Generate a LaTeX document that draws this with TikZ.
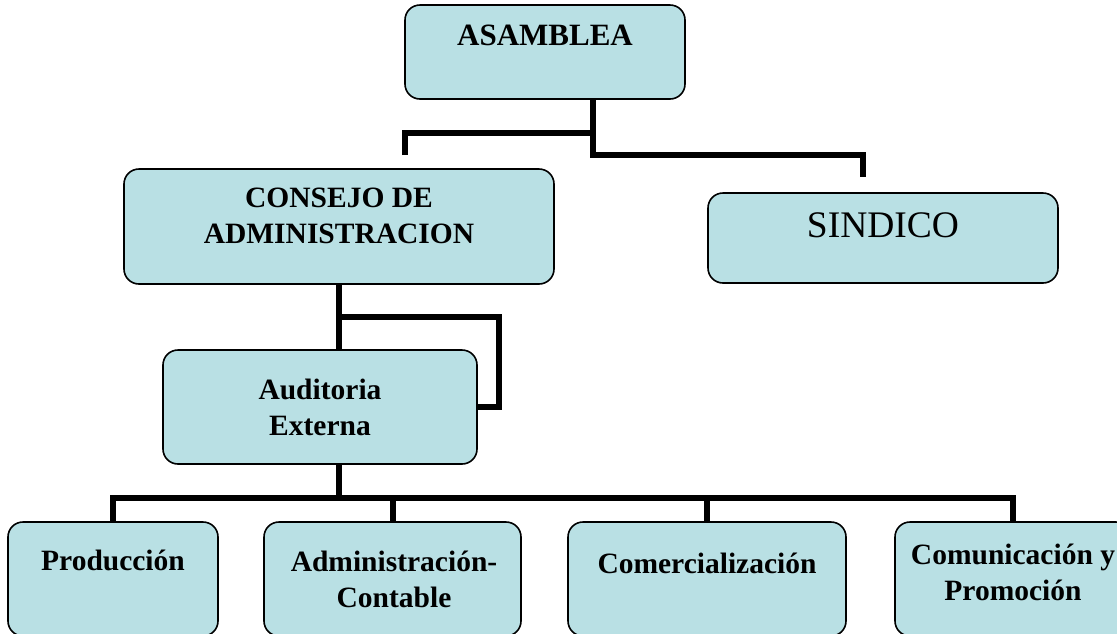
\documentclass[tikz,border=0pt]{standalone}
\usepackage{fontspec}
\setmainfont{Liberation Serif}
\definecolor{boxfill}{RGB}{185,224,228}
\tikzset{
  orgbox/.style={draw=black, line width=1.6pt, rounded corners=15pt, fill=boxfill, inner sep=0pt},
  lbl/.style={anchor=base, align=center, inner sep=0pt, font=\fontsize{29.5}{36}\selectfont\bfseries},
  conn/.style={line width=6pt, line cap=butt, line join=miter}
}
\begin{document}
\begin{tikzpicture}[x=1pt, y=-1pt]
\useasboundingbox (0,0) rectangle (1117,633);
\clip (0,0) rectangle (1117,633);
% boxes
\node[orgbox, minimum width=280pt, minimum height=94pt] (asamblea) at (545,52) {};
\node[orgbox, minimum width=430pt, minimum height=115pt] (consejo) at (339,226.5) {};
\node[orgbox, minimum width=350pt, minimum height=90pt] (sindico) at (883,238) {};
\node[orgbox, minimum width=314pt, minimum height=114pt] (auditoria) at (320,407) {};
\node[orgbox, minimum width=210pt, minimum height=114pt] (produccion) at (113,579) {};
\node[orgbox, minimum width=257pt, minimum height=114pt] (admin) at (392.5,579) {};
\node[orgbox, minimum width=278pt, minimum height=114pt] (comer) at (707,579) {};
\node[orgbox, minimum width=236pt, minimum height=114pt] (comun) at (1013,579) {};
% labels (base anchor = baseline of last line)
\node[lbl, font=\fontsize{31}{36}\selectfont\bfseries] (tasamblea) at (545,45) {ASAMBLEA};
\node[lbl] (tconsejo) at (339,243) {CONSEJO DE\\ADMINISTRACION};
\node[anchor=base, inner sep=0pt, font=\fontsize{37.5}{40}\selectfont] (tsindico) at (883,237) {SINDICO};
\node[lbl] (tauditoria) at (320,435) {Auditoria\\Externa};
\node[lbl] (tproduccion) at (113,570) {Producción};
\node[lbl] (tadmin) at (394,607) {Administración-\\Contable};
\node[lbl] (tcomer) at (707,573) {Comercialización};
\node[lbl] (tcomun) at (1013,600) {Comunicación y\\Promoción};
% junction coordinates
\coordinate (j1) at (593,133);
\coordinate (c1) at (405,155);
\coordinate (j2) at (863,155);
\coordinate (c2) at (863,177);
\coordinate (j3) at (339,317);
\coordinate (k) at (499,317);
\coordinate (bus) at (339,498);
% connectors
\draw[conn] (asamblea.south -| j1) -- (j1);
\draw[conn] (c1) |- (j1);
\draw[conn] (j1) |- (j2) -- (c2);
\draw[conn] (consejo.south -| j3) -- (auditoria.north -| j3);
\draw[conn] (j3) -- (k) |- (auditoria.east);
\draw[conn] (auditoria.south -| bus) -- (bus);
\draw[conn] (produccion.north) |- (comun.north |- bus) -- (comun.north);
\draw[conn] (admin.north) -- (admin.north |- bus);
\draw[conn] (comer.north) -- (comer.north |- bus);
\end{tikzpicture}
\end{document}
